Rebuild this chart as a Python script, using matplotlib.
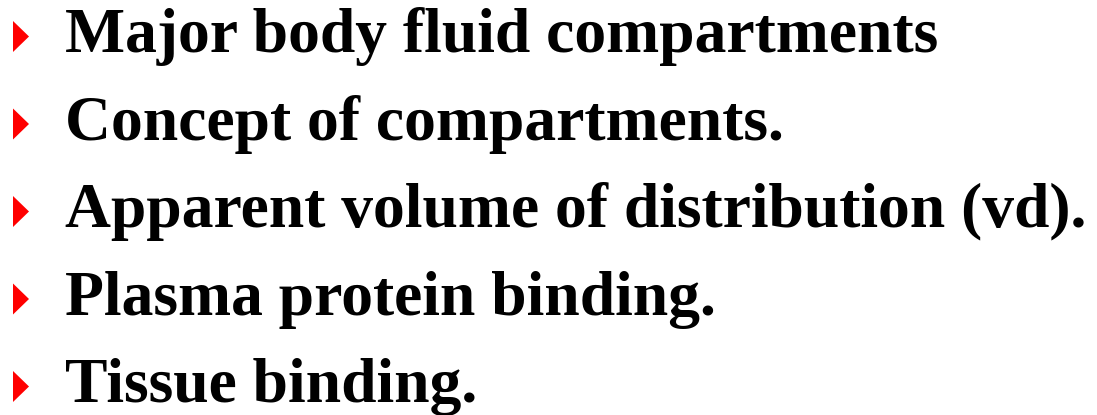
import matplotlib
matplotlib.use("Agg")
import matplotlib.pyplot as plt
from matplotlib.patches import Polygon

items = [
    "Major body fluid compartments",
    "Concept of compartments.",
    "Apparent volume of distribution (vd).",
    "Plasma protein binding.",
    "Tissue binding.",
]

W, H = 1097, 415
fig = plt.figure(figsize=(W / 100, H / 100), dpi=100)
ax = fig.add_axes([0, 0, 1, 1])
ax.set_xlim(0, W)
ax.set_ylim(H, 0)
ax.axis("off")

first_base = 52
step = 87.5
for i, label in enumerate(items):
    base = first_base + i * step
    # red triangle bullet
    ax.add_patch(Polygon([[13, base - 31], [29, base - 15.5], [13, base]],
                         closed=True, color="#ff0000", lw=0))
    ax.text(65, base, label, fontsize=45.8, fontweight="bold",
            family="Liberation Serif", color="black", va="baseline", ha="left")

fig.savefig("out.png", dpi=100)
